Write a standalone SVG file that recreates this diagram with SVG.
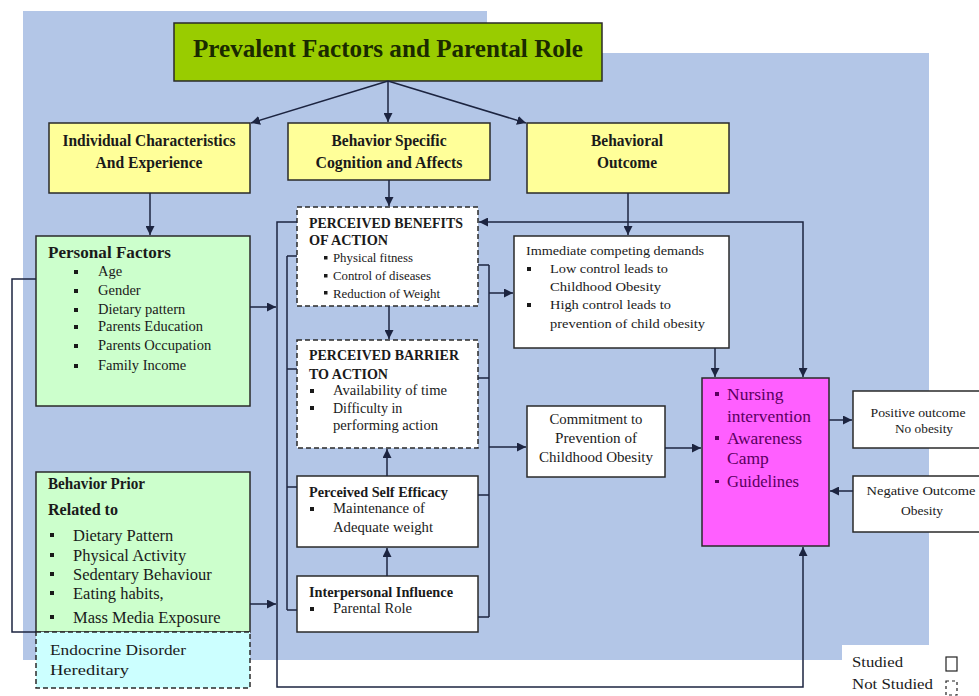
<svg xmlns="http://www.w3.org/2000/svg" width="979" height="696" viewBox="0 0 979 696">
<style>
text{font-family:"Liberation Serif","Times New Roman",serif;fill:#1a1a1a}
.b{font-weight:bold}
.box{stroke:#2a2a2a;stroke-width:1.5}
.dash{stroke-dasharray:5,3}
.yel{fill:#ffff99}
.grn{fill:#ccffcc}
.wht{fill:#ffffff}
.ln{fill:none;stroke:#1c2440;stroke-width:1.5}
.bul{fill:#1a1a1a}
.pk{fill:#5a0060}
</style>
<defs>
<marker id="ar" viewBox="0 0 10 10" refX="10" refY="5" markerWidth="9" markerHeight="9" markerUnits="userSpaceOnUse" orient="auto-start-reverse">
<path d="M0,0 L10,5 L0,10 z" fill="#1c2440"/>
</marker>
</defs>
<rect width="979" height="696" fill="#ffffff"/>
<polygon points="23,11 487,11 487,53 929,53 929,645 842,645 842,660 23,660" fill="#b3c6e7"/>

<g id="title">
<rect x="174" y="23" width="428" height="58" fill="#99cc00" class="box"/>
<text x="388" y="57" class="b" font-size="26" text-anchor="middle" textLength="390" lengthAdjust="spacingAndGlyphs" style="fill:#1a2a00">Prevalent Factors and Parental Role</text>
</g>

<g id="individual">
<rect x="49" y="123" width="201" height="70" class="box yel"/>
<text x="149" y="146" class="b" font-size="17" text-anchor="middle" textLength="173" lengthAdjust="spacingAndGlyphs">Individual Characteristics</text>
<text x="149" y="168" class="b" font-size="17" text-anchor="middle" textLength="107" lengthAdjust="spacingAndGlyphs">And Experience</text>
</g>

<g id="behaviorSpecific">
<rect x="288" y="123" width="202" height="57" class="box yel"/>
<text x="389" y="146" class="b" font-size="17" text-anchor="middle" textLength="115" lengthAdjust="spacingAndGlyphs">Behavior Specific</text>
<text x="389" y="168" class="b" font-size="17" text-anchor="middle" textLength="147" lengthAdjust="spacingAndGlyphs">Cognition and Affects</text>
</g>

<g id="behavioralOutcome">
<rect x="527" y="123" width="202" height="70" class="box yel"/>
<text x="627" y="146" class="b" font-size="17" text-anchor="middle" textLength="72" lengthAdjust="spacingAndGlyphs">Behavioral</text>
<text x="627" y="168" class="b" font-size="17" text-anchor="middle" textLength="60" lengthAdjust="spacingAndGlyphs">Outcome</text>
</g>

<g id="personal">
<rect x="36" y="236" width="214" height="170" class="box grn"/>
<text x="48" y="258" class="b" font-size="17" textLength="123" lengthAdjust="spacingAndGlyphs">Personal Factors</text>
<g font-size="14.5">
<rect x="74" y="270" width="4" height="4" class="bul"/><text x="98" y="276">Age</text>
<rect x="74" y="289" width="4" height="4" class="bul"/><text x="98" y="295">Gender</text>
<rect x="74" y="308" width="4" height="4" class="bul"/><text x="98" y="314">Dietary pattern</text>
<rect x="74" y="325" width="4" height="4" class="bul"/><text x="98" y="331">Parents Education</text>
<rect x="74" y="344" width="4" height="4" class="bul"/><text x="98" y="350">Parents Occupation</text>
<rect x="74" y="364" width="4" height="4" class="bul"/><text x="98" y="370">Family Income</text>
</g>
</g>

<g id="behaviorPrior">
<rect x="36" y="472" width="214" height="160" class="box grn"/>
<text x="48" y="489" class="b" font-size="17" textLength="97" lengthAdjust="spacingAndGlyphs">Behavior Prior</text>
<text x="48" y="515" class="b" font-size="17" textLength="70" lengthAdjust="spacingAndGlyphs">Related to</text>
<g font-size="16.5">
<rect x="50" y="533" width="4" height="4" class="bul"/><text x="73" y="541">Dietary Pattern</text>
<rect x="50" y="553" width="4" height="4" class="bul"/><text x="73" y="561">Physical Activity</text>
<rect x="50" y="572" width="4" height="4" class="bul"/><text x="73" y="580">Sedentary Behaviour</text>
<rect x="50" y="591" width="4" height="4" class="bul"/><text x="73" y="599">Eating habits,</text>
<rect x="50" y="615" width="4" height="4" class="bul"/><text x="73" y="623">Mass Media Exposure</text>
</g>
</g>

<g id="endocrine">
<rect x="36" y="632" width="214" height="56" fill="#ccffff" class="box dash"/>
<text x="50" y="655" font-size="15.5" textLength="136" lengthAdjust="spacingAndGlyphs">Endocrine Disorder</text>
<text x="50" y="675" font-size="15.5" textLength="79" lengthAdjust="spacingAndGlyphs">Hereditary</text>
</g>

<g id="benefits">
<rect x="297" y="207" width="181" height="99" class="box wht dash"/>
<text x="309" y="228" class="b" font-size="15" textLength="154" lengthAdjust="spacingAndGlyphs">PERCEIVED BENEFITS</text>
<text x="309" y="245" class="b" font-size="15" textLength="79" lengthAdjust="spacingAndGlyphs">OF ACTION</text>
<g font-size="12">
<rect x="324" y="256" width="3.5" height="3.5" class="bul"/><text x="333" y="262" textLength="80" lengthAdjust="spacingAndGlyphs">Physical fitness</text>
<rect x="324" y="274" width="3.5" height="3.5" class="bul"/><text x="333" y="280" textLength="98" lengthAdjust="spacingAndGlyphs">Control of diseases</text>
<rect x="324" y="291" width="3.5" height="3.5" class="bul"/><text x="333" y="298" textLength="107" lengthAdjust="spacingAndGlyphs">Reduction of Weight</text>
</g>
</g>

<g id="barrier">
<rect x="297" y="340" width="181" height="108" class="box wht dash"/>
<text x="309" y="360" class="b" font-size="15" textLength="150" lengthAdjust="spacingAndGlyphs">PERCEIVED BARRIER</text>
<text x="309" y="379" class="b" font-size="15" textLength="79" lengthAdjust="spacingAndGlyphs">TO ACTION</text>
<g font-size="14">
<rect x="310" y="389" width="4" height="4" class="bul"/><text x="333" y="395" textLength="114" lengthAdjust="spacingAndGlyphs">Availability of time</text>
<rect x="310" y="406" width="4" height="4" class="bul"/><text x="333" y="413">Difficulty in</text>
<text x="333" y="430" textLength="105" lengthAdjust="spacingAndGlyphs">performing action</text>
</g>
</g>

<g id="selfEfficacy">
<rect x="297" y="476" width="181" height="71" class="box wht"/>
<text x="309" y="497" class="b" font-size="14" textLength="139" lengthAdjust="spacingAndGlyphs">Perceived Self Efficacy</text>
<g font-size="14">
<rect x="310" y="507" width="4" height="4" class="bul"/><text x="333" y="513" textLength="92" lengthAdjust="spacingAndGlyphs">Maintenance of</text>
<text x="333" y="532" textLength="100" lengthAdjust="spacingAndGlyphs">Adequate weight</text>
</g>
</g>

<g id="interpersonal">
<rect x="297" y="576" width="181" height="56" class="box wht"/>
<text x="309" y="597" class="b" font-size="14" textLength="144" lengthAdjust="spacingAndGlyphs">Interpersonal Influence</text>
<rect x="310" y="607" width="4" height="4" class="bul"/><text x="333" y="613" font-size="14" textLength="79" lengthAdjust="spacingAndGlyphs">Parental Role</text>
</g>

<g id="immediate">
<rect x="514" y="236" width="215" height="112" class="box wht"/>
<g font-size="13.5">
<text x="526" y="255" textLength="178" lengthAdjust="spacingAndGlyphs">Immediate competing demands</text>
<rect x="527" y="267" width="4" height="4" class="bul"/><text x="550" y="273" textLength="118" lengthAdjust="spacingAndGlyphs">Low control leads to</text>
<text x="550" y="291" textLength="111" lengthAdjust="spacingAndGlyphs">Childhood Obesity</text>
<rect x="527" y="303" width="4" height="4" class="bul"/><text x="550" y="309" textLength="121" lengthAdjust="spacingAndGlyphs">High control leads to</text>
<text x="550" y="328" textLength="155" lengthAdjust="spacingAndGlyphs">prevention of child obesity</text>
</g>
</g>

<g id="commitment">
<rect x="527" y="406" width="138" height="71" class="box wht"/>
<g font-size="14" text-anchor="middle">
<text x="596" y="424" textLength="93" lengthAdjust="spacingAndGlyphs">Commitment to</text>
<text x="596" y="443" textLength="82" lengthAdjust="spacingAndGlyphs">Prevention of</text>
<text x="596" y="462" textLength="114" lengthAdjust="spacingAndGlyphs">Childhood Obesity</text>
</g>
</g>

<g id="nursing">
<rect x="702" y="378" width="127" height="168" fill="#ff5fff" class="box"/>
<g font-size="17.5">
<rect x="715" y="392" width="4" height="4" class="pk"/><text x="727" y="400" class="pk">Nursing</text>
<text x="727" y="422" class="pk" textLength="84" lengthAdjust="spacingAndGlyphs">intervention</text>
<rect x="715" y="436" width="4" height="4" class="pk"/><text x="727" y="444" class="pk" textLength="75" lengthAdjust="spacingAndGlyphs">Awareness</text>
<text x="727" y="464" class="pk">Camp</text>
<rect x="715" y="480" width="4" height="3" class="pk"/><text x="727" y="487" class="pk" textLength="72" lengthAdjust="spacingAndGlyphs">Guidelines</text>
</g>
</g>

<g id="positive">
<rect x="853" y="391" width="135" height="57" class="box wht"/>
<text x="918" y="417" font-size="13.5" text-anchor="middle" textLength="95" lengthAdjust="spacingAndGlyphs">Positive outcome</text>
<text x="924" y="433" font-size="13.5" text-anchor="middle" textLength="58" lengthAdjust="spacingAndGlyphs">No obesity</text>
</g>

<g id="negative">
<rect x="853" y="476" width="135" height="56" class="box wht"/>
<text x="921" y="495" font-size="13.5" text-anchor="middle" textLength="109" lengthAdjust="spacingAndGlyphs">Negative Outcome</text>
<text x="922" y="515" font-size="13.5" text-anchor="middle">Obesity</text>
</g>

<g id="legend">
<text x="852" y="667" font-size="14.5" textLength="51" lengthAdjust="spacingAndGlyphs">Studied</text>
<text x="852" y="689" font-size="14.5" textLength="81" lengthAdjust="spacingAndGlyphs">Not Studied</text>
<rect x="946" y="657" width="11" height="14" fill="none" stroke="#222" stroke-width="1.2"/>
<rect x="946" y="681" width="11" height="14" fill="none" stroke="#222" stroke-width="1.2" stroke-dasharray="3,3"/>
</g>

<g id="connectors">
<line x1="388" y1="81" x2="251" y2="123" class="ln" marker-end="url(#ar)"/>
<line x1="388" y1="81" x2="388" y2="122" class="ln" marker-end="url(#ar)"/>
<line x1="388" y1="81" x2="526" y2="123" class="ln" marker-end="url(#ar)"/>
<line x1="150" y1="193" x2="150" y2="235" class="ln" marker-end="url(#ar)"/>
<line x1="389" y1="180" x2="389" y2="206" class="ln" marker-end="url(#ar)"/>
<line x1="628" y1="193" x2="628" y2="235" class="ln" marker-end="url(#ar)"/>
<line x1="389" y1="306" x2="389" y2="339" class="ln" marker-end="url(#ar)"/>
<line x1="387" y1="476" x2="387" y2="449" class="ln" marker-end="url(#ar)"/>
<line x1="387" y1="576" x2="387" y2="548" class="ln" marker-end="url(#ar)"/>
<line x1="250" y1="307" x2="276" y2="307" class="ln" marker-end="url(#ar)"/>
<line x1="250" y1="604" x2="276" y2="604" class="ln" marker-end="url(#ar)"/>
<polyline points="36,279 12,279 12,632 36,632" class="ln"/>
<polyline points="297,222 277,222 277,687 803,687 803,547" class="ln" marker-end="url(#ar)"/>
<path d="M287,256 V610 M287,256 H297 M287,369 H297 M287,487 H297 M287,610 H297" class="ln"/>
<path d="M489,265 V617 M478,265 H489 M478,378 H489 M478,495 H489 M478,617 H489" class="ln"/>
<line x1="489" y1="293" x2="513" y2="293" class="ln" marker-end="url(#ar)"/>
<line x1="489" y1="447" x2="526" y2="447" class="ln" marker-end="url(#ar)"/>
<polyline points="479,222 803,222 803,377" class="ln" marker-start="url(#ar)" marker-end="url(#ar)"/>
<line x1="715" y1="348" x2="715" y2="377" class="ln" marker-end="url(#ar)"/>
<line x1="665" y1="448" x2="701" y2="448" class="ln" marker-end="url(#ar)"/>
<line x1="829" y1="420" x2="852" y2="420" class="ln" marker-end="url(#ar)"/>
<line x1="853" y1="491" x2="830" y2="491" class="ln" marker-end="url(#ar)"/>
</g>
</svg>
